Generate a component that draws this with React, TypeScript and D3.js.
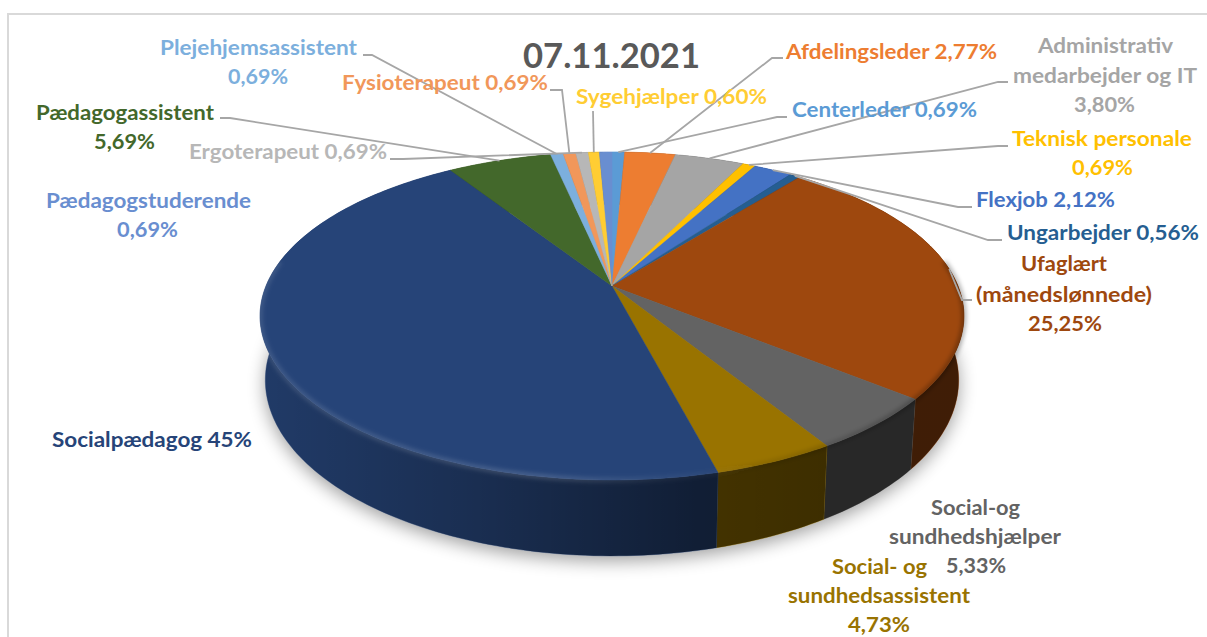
import React from "react";
import * as d3 from "d3";

// Staff categories in drawing order, clockwise from twelve o'clock.
const categories = [
  "Centerleder", "Afdelingsleder", "Administrativ medarbejder og IT", "Teknisk personale",
  "Flexjob", "Ungarbejder", "Ufaglært (månedslønnede)", "Social-og sundhedshjælper",
  "Social- og sundhedsassistent", "Socialpædagog", "Pædagogassistent", "Plejehjemsassistent",
  "Fysioterapeut", "Ergoterapeut", "Sygehjælper", "Pædagogstuderende",
];
const shares = [0.69, 2.77, 3.8, 0.69, 2.12, 0.56, 25.25, 5.33, 4.73, 45, 5.69, 0.69, 0.69, 0.69, 0.6, 0.69];
const sliceColors = [
  "#5b9bd5", "#ed7d31", "#a5a5a5", "#ffc000", "#4472c4", "#255e91", "#9e480e", "#636363",
  "#997300", "#264478", "#43682b", "#7cafdd", "#f1975a", "#b7b7b7", "#ffcd33", "#698ed0",
];
const title = "07.11.2021";

const W = 1207;
const H = 637;

// Disc geometry: a unit circle tilted away from the viewer.
const CX = 612;
const CY = 286;
const RX = 346;
const RY = 158.5;
const PERSPECTIVE = 0.183;
const DEPTH = 62;
const BASE_SHRINK = 0.985;

const projectScaled = (a: number): [number, number, number] => {
  const u = Math.sin(a);
  const v = -Math.cos(a);
  const s = 1 / (1 - PERSPECTIVE * v);
  return [CX + RX * u * s, CY + RY * v * s, s];
};
const project = (a: number): [number, number] => {
  const [x, y] = projectScaled(a);
  return [x, y];
};
// The wall height follows the same foreshortening as the disc itself.
const lower = (a: number): [number, number] => {
  const [x, y, s] = projectScaled(a);
  return [CX + (x - CX) * BASE_SHRINK, y + DEPTH * s];
};

const angleSteps = (a0: number, a1: number) => {
  const n = Math.max(2, Math.ceil((a1 - a0) / 0.02));
  return d3.range(n + 1).map((i) => a0 + ((a1 - a0) * i) / n);
};
const lineGen = d3.line<[number, number]>();

const arcs = d3
  .pie<number>()
  .sort(null)
  .value((d) => d)
  .startAngle(0)
  .endAngle(2 * Math.PI)(shares);

const topPath = (a0: number, a1: number) => `${lineGen([[CX, CY], ...angleSteps(a0, a1).map(project)])}Z`;
const sidePath = (a0: number, a1: number) => {
  const steps = angleSteps(a0, a1);
  return `${lineGen([...steps.map(project), ...steps.slice().reverse().map(lower)])}Z`;
};

// Text blocks: [category index, lines as [text, left, right, baseline]].
type Line = [string, number, number, number];
const labelBlocks: [number, Line[]][] = [
  [11, [["Plejehjemsassistent", 160, 357, 55], ["0,69%", 228, 288, 84]]],
  [12, [["Fysioterapeut 0,69%", 342, 548, 90]]],
  [14, [["Sygehjælper 0,60%", 576, 767, 104]]],
  [1, [["Afdelingsleder 2,77%", 786, 997, 59]]],
  [2, [["Administrativ", 1038, 1173, 53], ["medarbejder og IT", 1013, 1197, 83], ["3,80%", 1074, 1135, 112]]],
  [0, [["Centerleder 0,69%", 792, 977, 117]]],
  [3, [["Teknisk personale", 1012, 1192, 146], ["0,69%", 1072, 1133, 175]]],
  [4, [["Flexjob 2,12%", 976, 1115, 207]]],
  [5, [["Ungarbejder 0,56%", 1007, 1199, 240]]],
  [6, [["Ufaglært", 1021, 1107, 271], ["(månedslønnede)", 976, 1152, 302], ["25,25%", 1028, 1102, 331]]],
  [7, [["Social-og", 931, 1020, 515], ["sundhedshjælper", 889, 1061, 544], ["5,33%", 946, 1006, 573]]],
  [8, [["Social- og", 832, 927, 574], ["sundhedsassistent", 788, 970, 603], ["4,73%", 848, 910, 632]]],
  [9, [["Socialpædagog 45%", 52, 252, 447]]],
  [10, [["Pædagogassistent", 36, 214, 120], ["5,69%", 94, 155, 149]]],
  [13, [["Ergoterapeut 0,69%", 189, 387, 159]]],
  [15, [["Pædagogstuderende", 46, 251, 208], ["0,69%", 117, 178, 237]]],
];

// Leader lines run from the middle of a slice's rim through an elbow to its label.
const leaders: [number, [number, number], [number, number]][] = [
  [11, [372, 55], [363, 55]],
  [12, [562, 90], [550, 90]],
  [14, [593, 111], [593, 111]],
  [1, [772, 58], [783, 58]],
  [2, [998, 82], [1008, 82]],
  [0, [777, 117], [787, 117]],
  [3, [998, 146], [1008, 146]],
  [4, [958, 207], [972, 207]],
  [5, [988, 240], [1002, 240]],
  [6, [962, 300], [972, 300]],
  [10, [230, 118], [220, 118]],
  [13, [403, 159], [390, 159]],
];

const FONT = "Lato, Carlito, sans-serif";

export default function App() {
  const frontRim = angleSteps(Math.PI * 0.45, Math.PI * 1.55).map(project);
  const base = d3.range(0, 2 * Math.PI, 0.03).map(lower);
  return (
    <svg
      width={W}
      height={H}
      viewBox={`0 0 ${W} ${H}`}
      style={{ position: "absolute", left: 0, top: 0, display: "block", background: "#fff" }}
    >
      <defs>
        <filter id="soft" x="-20%" y="-20%" width="140%" height="140%">
          <feGaussianBlur stdDeviation="9" />
        </filter>
        <filter id="bevelBlur" x="-10%" y="-20%" width="120%" height="140%">
          <feGaussianBlur stdDeviation="2.2" />
        </filter>
        <linearGradient id="sideShade" gradientUnits="userSpaceOnUse" x1="260" x2="965" y1="0" y2="0">
          <stop offset="0" stopColor="#000" stopOpacity="0.14" />
          <stop offset="0.3" stopColor="#000" stopOpacity="0.32" />
          <stop offset="0.62" stopColor="#000" stopOpacity="0.56" />
          <stop offset="0.8" stopColor="#000" stopOpacity="0.6" />
          <stop offset="1" stopColor="#000" stopOpacity="0.6" />
        </linearGradient>
        <linearGradient id="rimShade" gradientUnits="userSpaceOnUse" x1="260" x2="965" y1="0" y2="0">
          <stop offset="0" stopColor="#fff" stopOpacity="0.12" />
          <stop offset="0.4" stopColor="#fff" stopOpacity="0.16" />
          <stop offset="0.58" stopColor="#fff" stopOpacity="0.05" />
          <stop offset="0.72" stopColor="#000" stopOpacity="0.1" />
          <stop offset="1" stopColor="#000" stopOpacity="0.3" />
        </linearGradient>
      </defs>

      {/* frame */}
      <path d={`M8,${H}V14H${W}`} fill="none" stroke="#d9d9d9" strokeWidth={2} />

      {/* cast shadow */}
      <path d={`${lineGen(base)}Z`} fill="#000" opacity={0.38} filter="url(#soft)" transform="translate(0,5)" />

      {/* wall of the disc */}
      {arcs.map((a, i) => (
        <g key={`side-${categories[i]}`}>
          <path d={sidePath(a.startAngle, a.endAngle)} fill={sliceColors[i]} stroke={sliceColors[i]} strokeWidth={0.4} />
          <path d={sidePath(a.startAngle, a.endAngle)} fill="url(#sideShade)" />
        </g>
      ))}

      {/* top face */}
      {arcs.map((a, i) => (
        <path
          key={`top-${categories[i]}`}
          d={topPath(a.startAngle, a.endAngle)}
          fill={sliceColors[i]}
          stroke={sliceColors[i]}
          strokeWidth={0.4}
        />
      ))}

      {/* soft bevel where the top meets the wall */}
      <path d={lineGen(frontRim) ?? ""} fill="none" stroke="url(#rimShade)" strokeWidth={5} filter="url(#bevelBlur)" />

      {/* leader lines */}
      {leaders.map(([i, elbow, end]) => {
        const mid = (arcs[i].startAngle + arcs[i].endAngle) / 2;
        return (
          <path
            key={`lead-${i}`}
            d={lineGen([project(mid), elbow, end]) ?? ""}
            fill="none"
            stroke="#a6a6a6"
            strokeWidth={1.8}
          />
        );
      })}

      {/* chart title */}
      <text
        x={523}
        y={68}
        textLength={177}
        lengthAdjust="spacingAndGlyphs"
        fontFamily={FONT}
        fontWeight={700}
        fontSize={34}
        fill="#595959"
      >
        {title}
      </text>

      {/* data labels */}
      {labelBlocks.map(([i, lines]) =>
        lines.map(([text, left, right, baseline]) => (
          <text
            key={`${i}-${text}`}
            x={left}
            y={baseline}
            textLength={right - left}
            lengthAdjust="spacingAndGlyphs"
            fontFamily={FONT}
            fontWeight={700}
            fontSize={20.5}
            fill={sliceColors[i]}
          >
            {text}
          </text>
        )),
      )}
    </svg>
  );
}
